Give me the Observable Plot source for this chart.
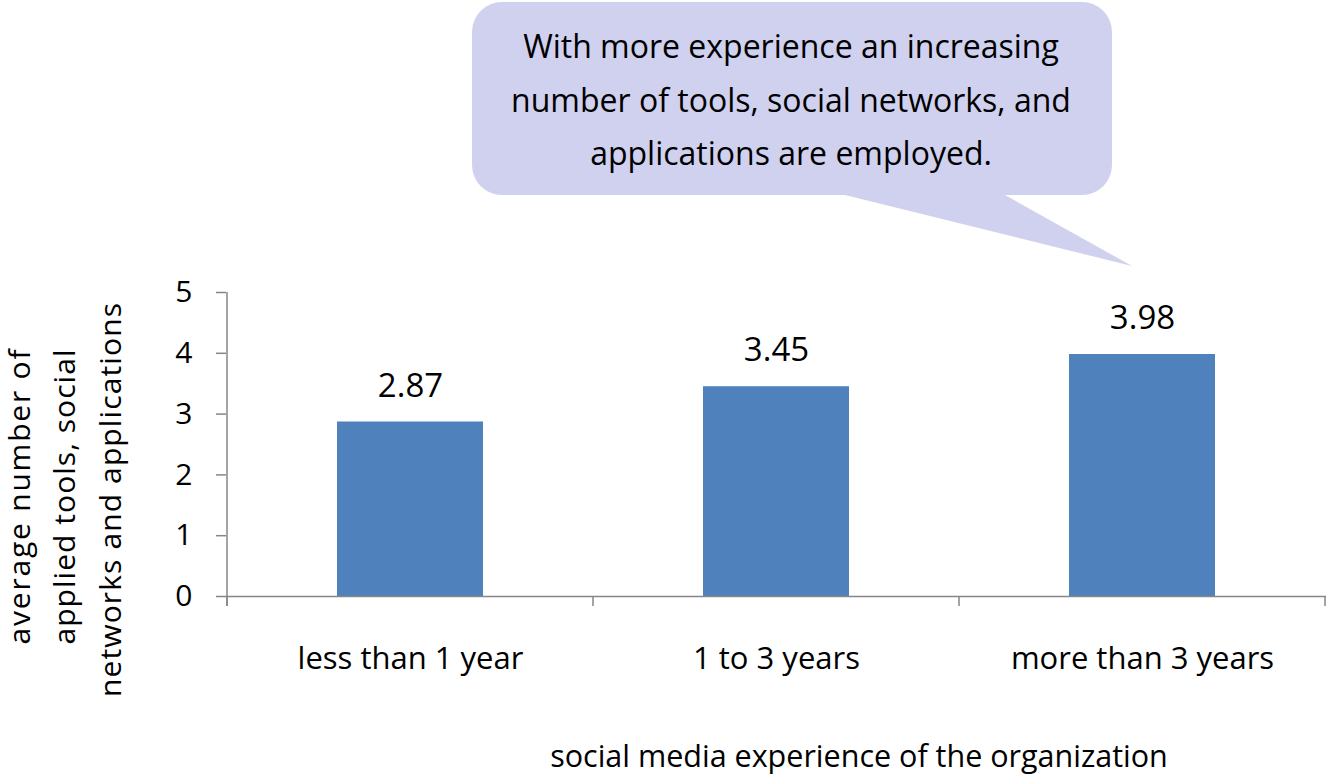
<!DOCTYPE html>
<html><head><meta charset="utf-8">
<script src="https://cdn.jsdelivr.net/npm/d3@7"></script>
<script src="https://cdn.jsdelivr.net/npm/@observablehq/plot@0.6"></script>
<style>body{margin:0;background:#fff} svg{display:block}</style>
</head><body><div id="chart"></div>
<script>
const categories = ["less than 1 year", "1 to 3 years", "more than 3 years"];
const values = [2.87, 3.45, 3.98];
const valueLabels = ["2.87", "3.45", "3.98"];
const yTicks = [0, 1, 2, 3, 4, 5];
const yTitleLines = ["average number of", "applied tools, social", "networks and applications"];
const xTitle = "social media experience of the organization";
const calloutLines = ["With more experience an increasing", "number of tools, social networks, and", "applications are employed."];

const data = categories.map((c, i) => ({category: c, value: values[i], label: valueLabels[i]}));
const FONT = "'Open Sans', Lato, sans-serif";
const AXIS = "#868686";

const plot = Plot.plot({
  width: 1329, height: 776,
  marginLeft: 226, marginRight: 3, marginTop: 292, marginBottom: 180,
  style: {fontFamily: FONT, fontSize: "30px", color: "#000", background: "#fff", overflow: "visible"},
  x: {domain: categories, paddingInner: 0.6, paddingOuter: 0.3, label: null},
  y: {domain: [0, 5], label: null},
  marks: [
    Plot.barY(data, {x: "category", y: "value", fill: "#4f81bd"}),
    Plot.ruleY([0], {stroke: AXIS, strokeWidth: 1.5}),
    Plot.text(data, {x: "category", y: "value", text: "label", dy: -36, fontSize: 33, fill: "#000"}),
    Plot.axisY({ticks: yTicks, tickSize: 10, tickPadding: 24, stroke: AXIS, strokeWidth: 1.5, fill: "#000", label: null, fontSize: 30, tickFormat: d => String(d)}),
    Plot.axisX({tickSize: 0, tickPadding: 50, label: null, fontSize: 31, fill: "#000"})
  ]
});
document.getElementById("chart").appendChild(plot);

const svg = d3.select(plot);
const xs = plot.scale("x"), ys = plot.scale("y");
const gap = (xs.step - xs.bandwidth) / 2;
const bounds = categories.map(c => xs.apply(c) - gap);
bounds.push(xs.apply(categories[categories.length - 1]) + xs.bandwidth + gap);
const y0 = ys.apply(0), y5 = ys.apply(5);

const g = svg.append("g").attr("stroke", AXIS).attr("stroke-width", 1.5);
g.append("line").attr("x1", bounds[0]).attr("x2", bounds[0]).attr("y1", y5).attr("y2", y0 + 10);
bounds.forEach(b => g.append("line").attr("x1", b).attr("x2", b).attr("y1", y0).attr("y2", y0 + 10));

// y title (three rotated lines)
const yt = svg.append("g").attr("font-family", FONT).attr("font-size", 30).attr("fill", "#000").attr("text-anchor", "middle");
const yLayout = [{bx: 30, cy: 497, len: 295}, {bx: 75, cy: 497, len: 295}, {bx: 121, cy: 500, len: 394}];
yLayout.forEach((l, i) => {
  yt.append("text").attr("transform", `translate(${l.bx},${l.cy}) rotate(-90)`)
    .attr("textLength", l.len).attr("lengthAdjust", "spacing").text(yTitleLines[i]);
});

// x title
svg.append("text").attr("x", 859).attr("y", 767).attr("text-anchor", "middle")
  .attr("font-family", FONT).attr("font-size", 30.5).attr("fill", "#000").text(xTitle);

// callout
const x0 = 472, x1 = 1112, t0 = 2, t1 = 195, r = 30;
const p = d3.path();
p.moveTo(x0 + r, t0);
p.lineTo(x1 - r, t0);
p.arcTo(x1, t0, x1, t0 + r, r);
p.lineTo(x1, t1 - r);
p.arcTo(x1, t1, x1 - r, t1, r);
p.lineTo(1005, t1);
p.lineTo(1132, 266);
p.lineTo(845, t1);
p.lineTo(x0 + r, t1);
p.arcTo(x0, t1, x0, t1 - r, r);
p.lineTo(x0, t0 + r);
p.arcTo(x0, t0, x0 + r, t0, r);
p.closePath();
svg.append("path").attr("d", p.toString()).attr("fill", "#d0d1ef");
const ct = svg.append("g").attr("font-family", FONT).attr("font-size", 32).attr("fill", "#000").attr("text-anchor", "middle");
[58, 112, 165].forEach((by, i) => ct.append("text").attr("x", 791).attr("y", by).text(calloutLines[i]));
</script>
</body></html>
